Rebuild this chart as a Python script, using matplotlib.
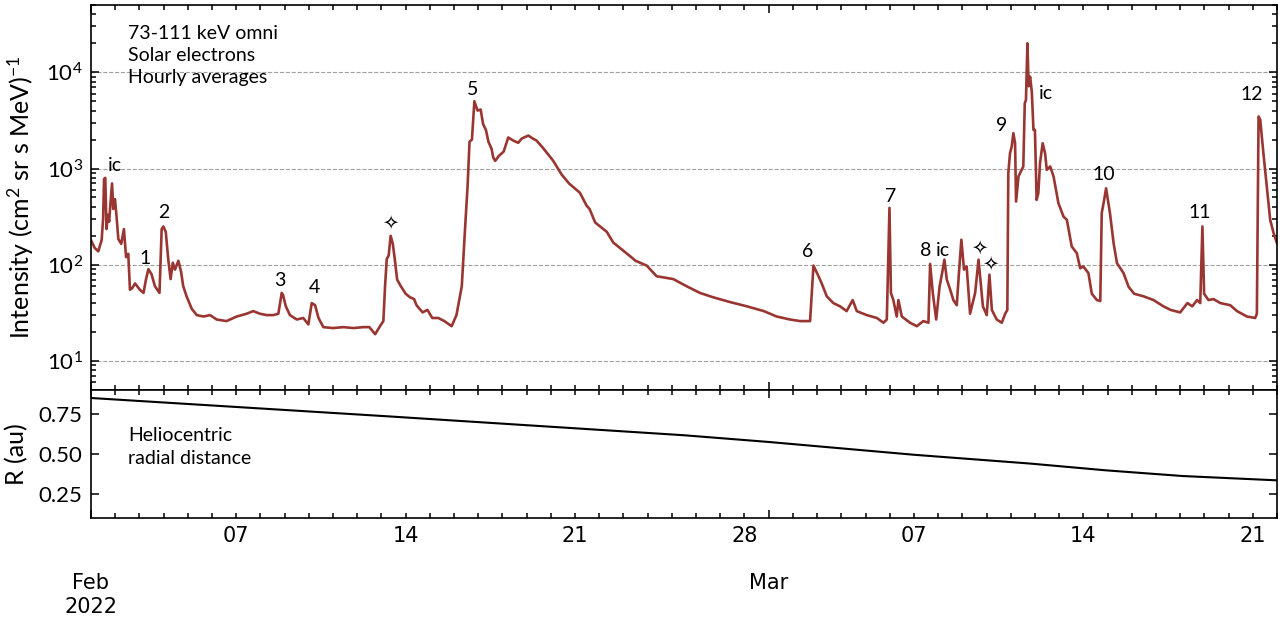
import numpy as np
import pandas as pd
import matplotlib
matplotlib.use('Agg')
import matplotlib.pyplot as plt
import matplotlib.dates as mdates
from matplotlib.ticker import FuncFormatter, FixedLocator

plt.rcParams['font.family'] = ['Lato', 'DejaVu Sans']
plt.rcParams['mathtext.fontset'] = 'custom'
plt.rcParams['mathtext.rm'] = 'Lato'
plt.rcParams['mathtext.it'] = 'Lato:italic'
plt.rcParams['mathtext.bf'] = 'Lato:bold'

start = pd.Timestamp('2022-02-01')

# electron intensity, hourly averages (day offset from 2022-02-01, intensity)
int_days = [
    0.00, 0.15, 0.30, 0.44, 0.50, 0.54, 0.59, 0.64, 0.70, 0.75, 0.80, 0.87, 0.92, 0.99,
    1.05, 1.13, 1.25, 1.36, 1.45, 1.54, 1.61, 1.70, 1.82, 2.02, 2.17, 2.27, 2.37, 2.50,
    2.64, 2.83, 2.92, 2.99, 3.09, 3.19, 3.29, 3.38, 3.47, 3.61, 3.72, 3.81, 3.95, 4.16,
    4.37, 4.65, 4.92, 5.19, 5.60, 6.02, 6.43, 6.70, 6.98, 7.26, 7.53, 7.74, 7.88, 7.93,
    8.05, 8.22, 8.50, 8.77, 8.98, 9.12, 9.26, 9.40, 9.60, 10.00, 10.43, 10.85, 11.25,
    11.50, 11.74, 11.94, 12.08, 12.15, 12.22, 12.30, 12.38, 12.47, 12.55, 12.65, 12.80,
    13.00, 13.18, 13.35, 13.45, 13.70, 13.90, 14.10, 14.35, 14.60, 14.90, 15.10, 15.32,
    15.46, 15.56, 15.64, 15.74, 15.84, 15.97, 16.10, 16.20, 16.32, 16.42, 16.55, 16.62,
    16.70, 16.85, 17.05, 17.24, 17.45, 17.65, 17.80, 18.07, 18.25, 18.41, 18.69, 19.10,
    19.44, 19.75, 20.20, 20.48, 20.60, 20.83, 21.31, 21.58, 22.27, 22.50, 22.96, 23.37,
    24.06, 24.60, 25.16, 25.70, 26.40, 27.10, 27.80, 28.33, 28.88, 29.30, 29.71, 29.78,
    29.85, 30.06, 30.19, 30.40, 30.67, 30.95, 31.22, 31.47, 31.64, 32.05, 32.47, 32.74,
    32.88, 32.99, 33.05, 33.15, 33.29, 33.36, 33.50, 33.84, 34.12, 34.39, 34.60, 34.67,
    34.78, 34.92, 35.06, 35.19, 35.26, 35.36, 35.50, 35.63, 35.77, 35.87, 35.96, 36.07,
    36.18, 36.32, 36.53, 36.67, 36.85, 37.01, 37.12, 37.22, 37.42, 37.63, 37.77, 37.86,
    37.90, 37.97, 38.04, 38.11, 38.18, 38.22, 38.32, 38.45, 38.52, 38.58, 38.63, 38.69,
    38.74, 38.80, 38.87, 38.94, 39.00, 39.07, 39.14, 39.21, 39.32, 39.42, 39.49, 39.63,
    39.77, 39.97, 40.18, 40.32, 40.52, 40.73, 40.87, 41.00, 41.21, 41.35, 41.56, 41.70,
    41.76, 41.86, 41.94, 42.10, 42.25, 42.39, 42.66, 42.87, 43.10, 43.49, 43.90, 44.31,
    44.60, 45.00, 45.30, 45.50, 45.70, 45.83, 45.92, 45.99, 46.17, 46.38, 46.66, 47.07,
    47.35, 47.76, 48.10, 48.17, 48.24, 48.31, 48.44, 48.58, 48.72, 48.86, 49.00,
]
intensity = [
    180, 150, 138, 180, 300, 780, 800, 235, 330, 280, 420, 700, 380, 480,
    330, 185, 165, 235, 120, 130, 55, 57, 64, 55, 51, 70, 90, 80,
    60, 51, 235, 250, 220, 115, 71, 105, 89, 110, 85, 60, 47, 35,
    30, 29, 30, 27, 26, 29, 31, 33, 31, 30, 30, 31, 51, 49,
    37, 30, 27, 28, 24, 40, 38, 28, 22.5, 22, 22.5, 22, 22.5,
    22.5, 19, 23, 26, 60, 115, 125, 200, 165, 115, 70, 60,
    50, 46, 44, 38, 32, 34, 28, 28, 26, 23, 30, 60,
    250, 660, 1900, 2000, 5000, 4000, 4100, 2900, 2500, 1900, 1600, 1300,
    1200, 1350, 1500, 2100, 1950, 1850, 2050, 2200, 2050, 1950, 1620, 1200,
    870, 700, 560, 410, 380, 275, 220, 170, 123, 110, 98, 76,
    71, 60, 51, 46, 41, 37, 33, 29, 27, 26, 26, 51,
    98, 76, 64, 47, 40, 37, 33, 43, 33, 30, 28, 25,
    27, 390, 51, 43, 29, 43, 29, 25, 23, 26, 25, 102,
    51, 27, 59, 89, 113, 70, 55, 43, 38, 89, 182, 89,
    96, 31, 51, 113, 37, 30, 79, 34, 27, 25, 31, 34,
    890, 1440, 1690, 2330, 1830, 454, 826, 970, 1050, 4770, 5160, 20000,
    7170, 9000, 6300, 2520, 2520, 472, 554, 1135, 1830, 1440, 970, 1050,
    826, 437, 317, 293, 155, 132, 92, 96, 82, 50, 43, 42,
    344, 472, 623, 344, 168, 104, 82, 59, 50, 47, 43, 37,
    34, 32, 40, 37, 43, 40, 250, 50, 43, 44, 40, 38,
    33, 29, 28, 31, 3470, 3200, 1440, 650, 293, 214, 168,
]

# heliocentric radial distance
r_days = [0, 12.3, 24.5, 28, 34, 38.8, 41.9, 45.1, 49]
r_au = [0.850, 0.735, 0.617, 0.575, 0.495, 0.440, 0.398, 0.362, 0.335]

# event labels: (text, day offset, intensity)
event_text = ['ic', '1', '2', '3', '4', '\u2727', '5', '6', '7', '8', 'ic',
              '\u2727', '\u2727', '9', 'ic', '10', '11', '12']
event_day = [0.99, 2.23, 3.02, 7.81, 9.23, 12.36, 15.77, 29.6, 33.02, 34.49, 35.22,
             36.69, 37.15, 37.64, 39.45, 41.83, 45.79, 47.96]
event_int = [1075, 117, 347, 68, 58, 270, 6650, 138, 515, 141, 141,
             149, 102, 2800, 6000, 870, 347, 5900]

t_int = start + pd.to_timedelta(np.array(int_days), unit='D')
t_r = start + pd.to_timedelta(np.array(r_days), unit='D')
t_ev = start + pd.to_timedelta(np.array(event_day), unit='D')

fig = plt.figure(figsize=(12.87, 6.24), dpi=100)
ax1 = fig.add_axes([0.0707, 0.375, 0.9215, 0.617])
ax2 = fig.add_axes([0.0707, 0.170, 0.9215, 0.205], sharex=ax1)

ax1.plot(t_int, intensity, color='#993631', lw=1.9)
ax1.set_yscale('log')
ax1.set_ylim(5, 5e4)
ax1.set_xlim(start, start + pd.Timedelta(days=49))
ax1.grid(True, axis='y', which='major', ls='--', color='#a0a0a0', lw=0.8)
ax1.set_ylabel('Intensity (cm$^2$ sr s MeV)$^{-1}$', fontsize=18)
ax1.yaxis.set_label_coords(-0.0464, 0.5)
ax1.text(0.031, 0.947, '73-111 keV omni\nSolar electrons\nHourly averages',
         transform=ax1.transAxes, fontsize=14, va='top', ha='left', linespacing=1.36)

for txt, tx, ty in zip(event_text, t_ev, event_int):
    if txt == '\u2727':
        ax1.text(tx, ty, txt, fontsize=14, ha='center', va='center', family=['DejaVu Sans'])
    else:
        ax1.text(tx, ty, txt, fontsize=14, ha='center', va='center')

ax2.plot(t_r, r_au, color='black', lw=1.5)
ax2.set_ylim(0.1, 0.9)
ax2.yaxis.set_major_locator(FixedLocator([0.25, 0.5, 0.75]))
ax2.yaxis.set_major_formatter(FuncFormatter(lambda v, p: '%.2f' % v))
ax2.set_ylabel('R (au)', fontsize=18)
ax2.yaxis.set_label_coords(-0.053, 0.5)
ax2.text(0.031, 0.71, 'Heliocentric\nradial distance', transform=ax2.transAxes,
         fontsize=14, va='top', ha='left', linespacing=1.4)


def day_label(v, pos):
    d = mdates.num2date(v)
    return '%02d' % d.day if d.day in (7, 14, 21, 28) else ''


def month_label(v, pos):
    d = mdates.num2date(v)
    if d.month == 2:
        return 'Feb\n2022'
    return d.strftime('%b')


ax2.xaxis.set_major_locator(mdates.MonthLocator())
ax2.xaxis.set_minor_locator(mdates.DayLocator())
ax2.xaxis.set_major_formatter(FuncFormatter(month_label))
ax2.xaxis.set_minor_formatter(FuncFormatter(day_label))

for ax in (ax1, ax2):
    ax.tick_params(which='both', direction='in', top=True, right=True, width=1.1)
    ax.tick_params(axis='y', which='major', length=6, labelsize=16, pad=6)
    ax.tick_params(axis='y', which='minor', length=3.5)
    ax.tick_params(axis='x', which='major', length=6)
    ax.tick_params(axis='x', which='minor', length=3.5)
    for sp in ax.spines.values():
        sp.set_linewidth(1.2)

ax1.tick_params(axis='x', which='both', labelbottom=False)
ax2.tick_params(axis='x', which='minor', labelsize=15, pad=6, labelfontfamily='DejaVu Sans')
ax2.tick_params(axis='x', which='major', labelsize=15, pad=40, labelfontfamily='DejaVu Sans')

fig.savefig('out.png', dpi=100)
